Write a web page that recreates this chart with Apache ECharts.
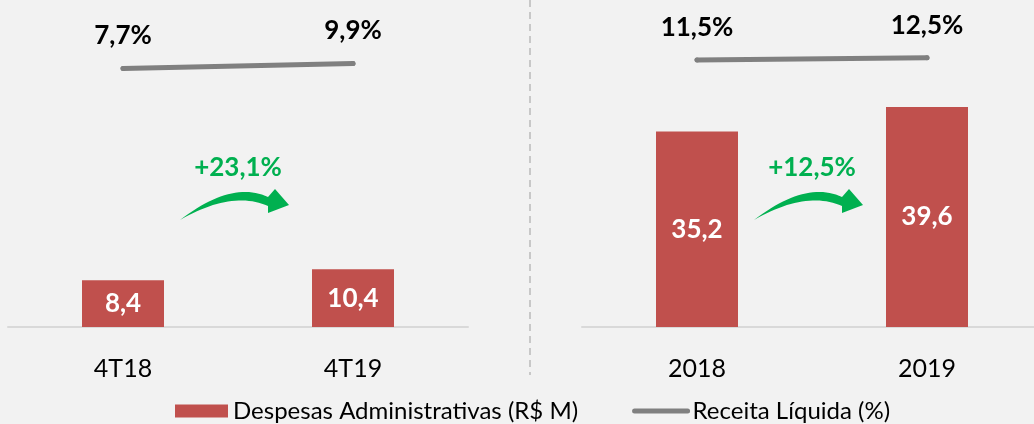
<!DOCTYPE html>
<html>
<head>
<meta charset="utf-8">
<script src="https://cdn.jsdelivr.net/npm/echarts@6/dist/echarts.min.js"></script>
<style>
  html, body { margin: 0; padding: 0; background: #f2f2f2; }
  #main { width: 1034px; height: 424px; }
</style>
</head>
<body>
<div id="main"></div>
<script>
// dados
var trimestres = ['4T18', '4T19'];
var anos = ['2018', '2019'];
var despesasTri = [8.4, 10.4];
var despesasAno = [35.2, 39.6];
var receitaTri = [7.7, 9.9];
var receitaAno = [11.5, 12.5];
var crescimento = ['+23,1%', '+12,5%'];

var FONTE = 'Lato, "Open Sans", sans-serif';
var VERMELHO = '#c0504d', CINZA = '#808080', VERDE = '#00b050';
var NOME_BARRA = 'Despesas Administrativas (R$ M)';
var NOME_LINHA = 'Receita Líquida (%)';

function virgula(v) { return v.toFixed(1).replace('.', ','); }

var myChart = echarts.init(document.getElementById('main'));

function eixoX(idx, dados) {
  return {
    type: 'category', gridIndex: idx, data: dados,
    axisLine: { lineStyle: { color: '#d9d9d9', width: 2 } },
    axisTick: { show: false },
    axisLabel: { color: '#000', fontFamily: FONTE, fontSize: 25, margin: 29 }
  };
}
function barra(idx, dados) {
  return {
    type: 'bar', name: NOME_BARRA, xAxisIndex: idx, yAxisIndex: idx * 2,
    data: dados, barWidth: 82, itemStyle: { color: VERMELHO },
    label: {
      show: true, position: 'inside', color: '#fff', fontFamily: FONTE,
      fontWeight: 'bold', fontSize: 26, formatter: function (p) { return virgula(p.value); }
    }
  };
}
function linha(idx, dados) {
  return {
    type: 'line', name: NOME_LINHA, xAxisIndex: idx, yAxisIndex: idx * 2 + 1,
    data: dados, symbol: 'circle', symbolSize: 5,
    itemStyle: { color: CINZA },
    lineStyle: { color: CINZA, width: 5, cap: 'round' },
    label: {
      show: true, position: 'top', distance: 17, color: '#000', fontFamily: FONTE,
      fontWeight: 'bold', fontSize: 26, formatter: function (p) { return virgula(p.value) + '%'; }
    }
  };
}

myChart.setOption({
  backgroundColor: '#f2f2f2',
  animation: false,
  grid: [
    { left: 8, width: 460, top: 26, bottom: 97, outerBoundsMode: 'none' },
    { left: 582, width: 460, top: 26, bottom: 97, outerBoundsMode: 'none' }
  ],
  xAxis: [eixoX(0, trimestres), eixoX(1, anos)],
  yAxis: [
    { type: 'value', gridIndex: 0, min: 0, max: 54.2, show: false },
    { type: 'value', gridIndex: 0, min: -110, max: 27, show: false },
    { type: 'value', gridIndex: 1, min: 0, max: 54.2, show: false },
    { type: 'value', gridIndex: 1, min: -110, max: 27, show: false }
  ],
  legend: {
    left: 170, top: 394, itemWidth: 53, itemHeight: 13, itemGap: 54,
    textStyle: { color: '#000', fontFamily: FONTE, fontSize: 24 },
    data: [
      { name: NOME_BARRA, icon: 'rect' },
      { name: NOME_LINHA, lineStyle: { width: 5, cap: 'round' }, itemStyle: { opacity: 0 } }
    ]
  },
  series: [barra(0, despesasTri), linha(0, receitaTri), barra(1, despesasAno), linha(1, receitaAno)]
});

// seta curva (forma local, origem no meio entre as barras)
function quad(p0, c, p2, n) {
  var pts = [];
  for (var k = 0; k <= n; k++) {
    var t = k / n, u = 1 - t;
    pts.push([u * u * p0[0] + 2 * u * t * c[0] + t * t * p2[0], u * u * p0[1] + 2 * u * t * c[1] + t * t * p2[1]]);
  }
  return pts;
}
var seta = quad([-58, 15], [-6, -25], [30, -8], 24)
  .concat([[37, -16], [51, 0], [30, 8]])
  .concat(quad([30, 1], [-6, -15], [-58, 15], 24));

var graficos = [{
  type: 'line', silent: true,
  shape: { x1: 530, y1: 0, x2: 530, y2: 375 },
  style: { stroke: '#c8c8c8', lineWidth: 2, lineDash: [7, 5] }
}];
[[0, trimestres], [1, anos]].forEach(function (g, i) {
  var a = myChart.convertToPixel({ xAxisIndex: g[0] }, g[1][0]);
  var b = myChart.convertToPixel({ xAxisIndex: g[0] }, g[1][1]);
  var mx = (a + b) / 2;
  graficos.push({
    type: 'text', x: mx, y: 168,
    style: { text: crescimento[i], fill: VERDE, font: 'bold 26px ' + FONTE, align: 'center', verticalAlign: 'middle' }
  });
  graficos.push({
    type: 'polygon', x: mx, y: 205,
    shape: { points: seta }, style: { fill: VERDE }
  });
});
myChart.setOption({ graphic: graficos });
</script>
</body>
</html>
